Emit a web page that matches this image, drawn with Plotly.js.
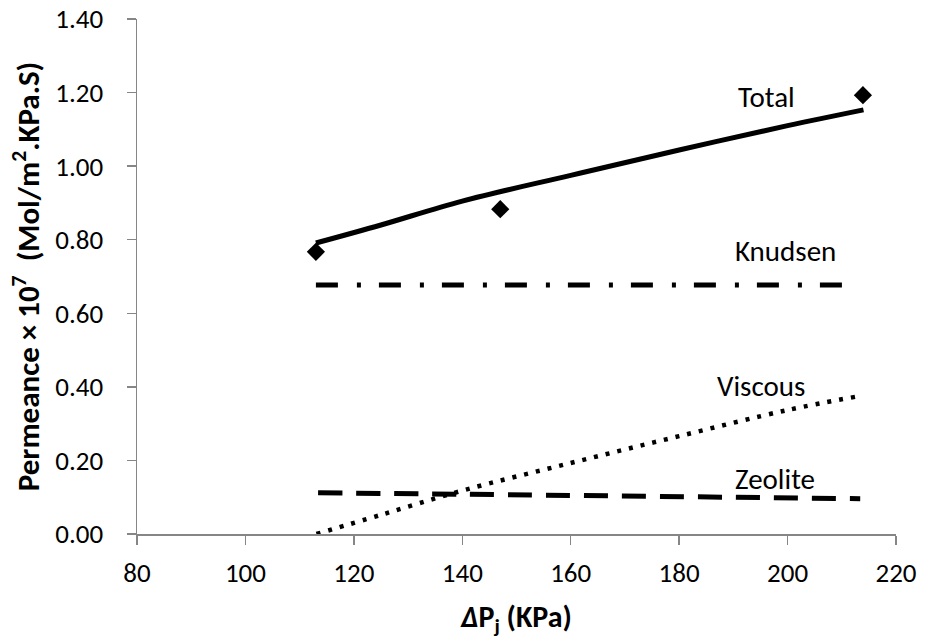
<!DOCTYPE html>
<html>
<head>
<meta charset="utf-8">
<script src="https://cdn.plot.ly/plotly-3.0.1.min.js"></script>
<style>html,body{margin:0;padding:0;background:#fff;}#chart{width:925px;height:643px;}</style>
</head>
<body>
<div id="chart"></div>
<script>
// Experimental total permeance
const expPressure = [113.0, 147.0, 213.9];
const expTotal = [0.767, 0.883, 1.193];

// Model curves
const totalX = [113, 125, 140, 160, 180, 200, 214];
const totalY = [0.791, 0.840, 0.905, 0.975, 1.044, 1.110, 1.153];

const knudsenX = [113, 211];
const knudsenY = [0.677, 0.677];

const viscousX = [113.1, 125, 140, 160, 180, 200, 212.5];
const viscousY = [0.000, 0.052, 0.118, 0.193, 0.266, 0.337, 0.373];

const zeoliteX = [113.4, 140, 213.4];
const zeoliteY = [0.112, 0.108, 0.096];

const xTicks = [80, 100, 120, 140, 160, 180, 200, 220];
const yTicks = [0.0, 0.2, 0.4, 0.6, 0.8, 1.0, 1.2, 1.4];

const labels = [
  {text: 'Total',   x: 196.2, y: 1.188},
  {text: 'Knudsen', x: 199.7, y: 0.769},
  {text: 'Viscous', x: 195.1, y: 0.402},
  {text: 'Zeolite', x: 197.7, y: 0.150}
];

const FONT = 'Carlito, Calibri, Lato, sans-serif';
const AXC = '#868686';

const traces = [
  {x: totalX, y: totalY, mode: 'lines', line: {color: '#000', width: 5, shape: 'spline'}},
  {x: knudsenX, y: knudsenY, mode: 'lines', line: {color: '#000', width: 5, dash: '22px,19px,4px,18px'}},
  {x: viscousX, y: viscousY, mode: 'lines', line: {color: '#000', width: 4.5, dash: '4px,8px', shape: 'spline'}},
  {x: zeoliteX, y: zeoliteY, mode: 'lines', line: {color: '#000', width: 5, dash: '24px,14px', shape: 'spline'}},
  {x: expPressure, y: expTotal, mode: 'markers', marker: {symbol: 'diamond', size: 14, color: '#000'}}
];

const layout = {
  width: 925, height: 643,
  margin: {l: 137, r: 29, t: 19, b: 109},
  paper_bgcolor: '#fff', plot_bgcolor: '#fff',
  showlegend: false,
  font: {family: FONT, color: '#000', size: 27},
  xaxis: {
    range: [80, 220], tickvals: xTicks, ticktext: xTicks.map(String),
    showgrid: false, zeroline: false, showline: true, linecolor: AXC, linewidth: 1.5,
    ticks: 'outside', ticklen: 9, tickwidth: 1.5, tickcolor: AXC,
    tickfont: {family: FONT, size: 27, color: '#000'},
    ticklabelstandoff: 5,
    title: {text: '<b><i>Δ</i>P<sub>j</sub> (KPa)</b>', font: {family: FONT, size: 30, color: '#000'}, standoff: 18}
  },
  yaxis: {
    range: [0, 1.4], tickvals: yTicks, ticktext: yTicks.map(v => v.toFixed(2)),
    showgrid: false, zeroline: false, showline: true, linecolor: AXC, linewidth: 1.5,
    ticks: 'outside', ticklen: 9, tickwidth: 1.5, tickcolor: AXC,
    tickfont: {family: FONT, size: 27, color: '#000'},
    ticklabelstandoff: 18,
    title: {text: '<b>Permeance × 10<sup>7</sup>  (Mol/m<sup>2</sup>.KPa.S)</b>', font: {family: FONT, size: 31, color: '#000'}, standoff: 6}
  },
  annotations: labels.map(l => ({
    text: l.text, x: l.x, y: l.y, xref: 'x', yref: 'y', showarrow: false,
    font: {family: FONT, size: 29, color: '#000'}
  }))
};

Plotly.newPlot('chart', traces, layout, {displayModeBar: false, staticPlot: true});
</script>
</body>
</html>
